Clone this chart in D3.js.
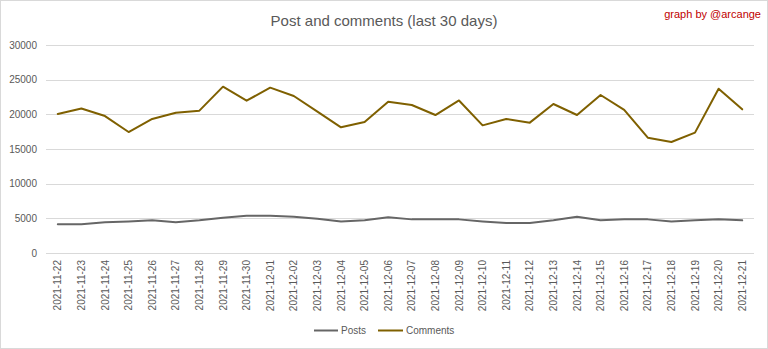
<!DOCTYPE html>
<html><head><meta charset="utf-8">
<script src="https://cdn.jsdelivr.net/npm/d3@7"></script>
<style>body{margin:0;background:#fff}svg{display:block}</style>
</head><body>
<script>
const dates = ["2021-11-22","2021-11-23","2021-11-24","2021-11-25","2021-11-26","2021-11-27","2021-11-28","2021-11-29","2021-11-30","2021-12-01","2021-12-02","2021-12-03","2021-12-04","2021-12-05","2021-12-06","2021-12-07","2021-12-08","2021-12-09","2021-12-10","2021-12-11","2021-12-12","2021-12-13","2021-12-14","2021-12-15","2021-12-16","2021-12-17","2021-12-18","2021-12-19","2021-12-20","2021-12-21"];
const posts = [4150,4150,4420,4560,4710,4420,4710,5100,5390,5390,5240,4950,4560,4710,5140,4850,4850,4850,4560,4330,4330,4710,5240,4710,4850,4850,4560,4710,4850,4710];
const comments = [20050,20850,19750,17450,19330,20240,20530,23990,21970,23850,22640,20380,18130,18890,21830,21350,19900,22000,18410,19330,18800,21490,19900,22790,20630,16630,16010,17360,23700,20720];
const yTicks = [0,5000,10000,15000,20000,25000,30000];
const seriesNames = ["Posts","Comments"];
const colors = ["#666666","#7f6000"];

const W=768,H=349;
const svg=d3.select("body").append("svg").attr("width",W).attr("height",H);
svg.append("rect").attr("x",0.5).attr("y",0.5).attr("width",W-1).attr("height",H-1).attr("fill","#fff").attr("stroke","#d9d9d9");

const x=d3.scaleBand().domain(dates).range([46,754]);
const y=d3.scaleLinear().domain([0,30000]).range([253,45]);

// gridlines
svg.append("g").selectAll("line").data(yTicks).join("line")
  .attr("x1",46).attr("x2",754).attr("y1",d=>Math.round(y(d))+0.5).attr("y2",d=>Math.round(y(d))+0.5)
  .attr("stroke","#d9d9d9").attr("stroke-width",1);

// y axis
const ya=svg.append("g").attr("transform","translate(46,0)").call(d3.axisLeft(y).tickValues(yTicks).tickSize(0).tickPadding(9).tickFormat(d3.format("d")));
ya.select(".domain").remove();
ya.selectAll("text").attr("fill","#595959").style("font-family","Liberation Sans, Arial, sans-serif").style("font-size","10px");

// x axis
const xa=svg.append("g").attr("transform","translate(0,253)").call(d3.axisBottom(x).tickSize(0));
xa.select(".domain").remove();
xa.selectAll("text").attr("fill","#595959").style("font-family","Liberation Sans, Arial, sans-serif").style("font-size","10px")
  .attr("transform","rotate(-90)").attr("text-anchor","end").attr("dy","0.35em").attr("x",-7).attr("y",0);

const cx=d=>x(d)+x.bandwidth()/2;
const line=d3.line().x((d,i)=>cx(dates[i])).y(d=>y(d));
[posts,comments].forEach((s,i)=>{
  svg.append("path").datum(s).attr("d",line).attr("fill","none").attr("stroke",colors[i]).attr("stroke-width",2).attr("stroke-linejoin","round").attr("stroke-linecap","round");
});

// title
svg.append("text").attr("x",384).attr("y",26).attr("text-anchor","middle").attr("fill","#595959")
  .style("font-family","Liberation Sans, Arial, sans-serif").style("font-size","15px").text("Post and comments (last 30 days)");
svg.append("text").attr("x",761).attr("y",18).attr("text-anchor","end").attr("fill","#c00000")
  .style("font-family","Liberation Sans, Arial, sans-serif").style("font-size","11px").text("graph by @arcange");

// legend
const leg=[{x1:314,x2:338,tx:341},{x1:378,x2:403,tx:406}];
seriesNames.forEach((n,i)=>{
  svg.append("line").attr("x1",leg[i].x1).attr("x2",leg[i].x2).attr("y1",330.5).attr("y2",330.5).attr("stroke",colors[i]).attr("stroke-width",2);
  svg.append("text").attr("x",leg[i].tx).attr("y",330.5).attr("dy","0.35em").attr("fill","#595959")
    .style("font-family","Liberation Sans, Arial, sans-serif").style("font-size","10px").text(n);
});
</script>
</body></html>
